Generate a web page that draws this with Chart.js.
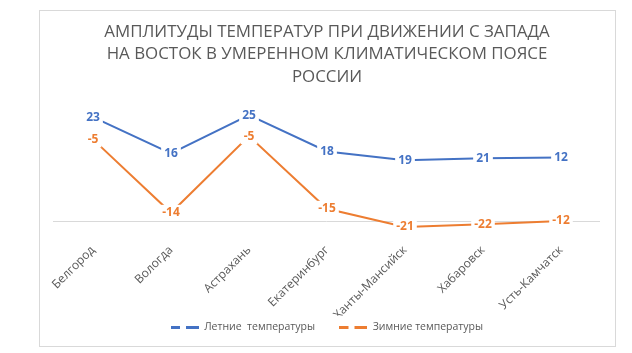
<!DOCTYPE html>
<html>
<head>
<meta charset="utf-8">
<script src="https://cdn.jsdelivr.net/npm/chart.js@4/dist/chart.umd.min.js"></script>
<style>
  html, body { margin: 0; padding: 0; background: #fff; }
  #wrap { width: 632px; height: 353px; }
</style>
</head>
<body>
<div id="wrap"><canvas id="myChart" width="632" height="353"></canvas></div>
<script>
// города с запада на восток
var cities = ['Белгород', 'Вологда', 'Астрахань', 'Екатеринбург', 'Ханты-Мансийск', 'Хабаровск', 'Усть-Камчатск'];

// подписи точек (как на диаграмме)
var summerText = [23, 16, 25, 18, 19, 21, 12];
var winterText = [-5, -14, -5, -15, -21, -22, -12];

// высота линий
var summerLine = [25.6, 16.6, 26.1, 17.1, 14.9, 15.4, 15.6];
var winterLine = [20.1, 1.9, 20.9, 2.9, -1.6, -0.9, -0.1];

var seriesNames = ['Летние  температуры', 'Зимние температуры'];
var titleLines = ['АМПЛИТУДЫ ТЕМПЕРАТУР ПРИ ДВИЖЕНИИ С ЗАПАДА', 'НА ВОСТОК В УМЕРЕННОМ КЛИМАТИЧЕСКОМ ПОЯСЕ', 'РОССИИ'];
var blue = '#4472C4';
var orange = '#ED7D31';
var grey = '#595959';

// значок легенды: линия с разрывом
function legendMark(color) {
  var c = document.createElement('canvas');
  c.width = 28; c.height = 3;
  var g = c.getContext('2d');
  g.fillStyle = color;
  g.fillRect(0, 0, 9, 3);
  g.fillRect(15, 0, 13, 3);
  return c;
}

var frame = {
  id: 'frame',
  beforeDraw: function (chart) {
    var ctx = chart.ctx;
    ctx.save();
    ctx.fillStyle = '#fff';
    ctx.fillRect(0, 0, chart.width, chart.height);
    ctx.strokeStyle = '#d9d9d9';
    ctx.lineWidth = 1;
    ctx.strokeRect(39.5, 10.5, 576, 336);
    // заголовок
    ctx.fillStyle = grey;
    ctx.font = '16.9px "Open Sans"';
    ctx.textAlign = 'center';
    ctx.textBaseline = 'middle';
    var cx = (chart.chartArea.left + chart.chartArea.right) / 2;
    titleLines.forEach(function (t, i) {
      ctx.fillText(t, cx, 32 + i * 22.6);
    });
    ctx.restore();
  },
  beforeDatasetsDraw: function (chart) {
    var ctx = chart.ctx;
    var y = Math.round(chart.scales.y.getPixelForValue(0)) + 0.5;
    ctx.save();
    ctx.strokeStyle = '#d9d9d9';
    ctx.lineWidth = 1;
    ctx.beginPath();
    ctx.moveTo(chart.chartArea.left - 1, y);
    ctx.lineTo(chart.chartArea.right, y);
    ctx.stroke();
    ctx.restore();
  }
};

var pointLabels = {
  id: 'pointLabels',
  afterDatasetsDraw: function (chart) {
    var ctx = chart.ctx;
    ctx.save();
    ctx.font = 'bold 12px "Open Sans"';
    ctx.textAlign = 'center';
    ctx.textBaseline = 'middle';
    chart.data.datasets.forEach(function (ds, i) {
      var meta = chart.getDatasetMeta(i);
      meta.data.forEach(function (pt, j) {
        var txt = String(ds.texts[j]);
        var w = ctx.measureText(txt).width + 6;
        ctx.fillStyle = '#fff';
        ctx.fillRect(pt.x - w / 2, pt.y - 8, w, 16);
        ctx.fillStyle = ds.borderColor;
        ctx.fillText(txt, pt.x, pt.y);
      });
    });
    ctx.restore();
  }
};

new Chart('myChart', {
  type: 'line',
  data: {
    labels: cities,
    datasets: [{
      label: seriesNames[0],
      data: summerLine,
      texts: summerText,
      borderColor: blue,
      backgroundColor: blue,
      borderWidth: 2,
      pointRadius: 0,
      pointStyle: legendMark(blue),
      fill: false
    }, {
      label: seriesNames[1],
      data: winterLine,
      texts: winterText,
      borderColor: orange,
      backgroundColor: orange,
      borderWidth: 2,
      pointRadius: 0,
      pointStyle: legendMark(orange),
      fill: false
    }]
  },
  options: {
    responsive: false,
    animation: false,
    layout: { padding: { left: 54, right: 32, top: 99, bottom: 10.75 } },
    plugins: {
      title: { display: false },
      legend: {
        position: 'bottom',
        labels: {
          usePointStyle: true,
          pointStyleWidth: 28,
          color: grey,
          font: { family: '"Open Sans"', size: 10.5 },
          padding: 6,
          generateLabels: function (chart) {
            var items = Chart.defaults.plugins.legend.labels.generateLabels(chart);
            // чуть больше места между элементами легенды
            items[0].text = items[0].text + '\u2003\u2002 ';
            return items;
          }
        }
      },
      tooltip: { enabled: false }
    },
    scales: {
      x: {
        offset: true,
        grid: { display: false },
        border: { display: false },
        ticks: {
          color: grey,
          font: { family: '"Open Sans"', size: 12 },
          maxRotation: 45,
          minRotation: 45,
          padding: 4
        },
        afterFit: function (scale) { scale.height = 84.75; }
      },
      y: {
        display: false,
        min: -2.6,
        max: 30.1
      }
    }
  },
  plugins: [frame, pointLabels]
});
</script>
</body>
</html>
